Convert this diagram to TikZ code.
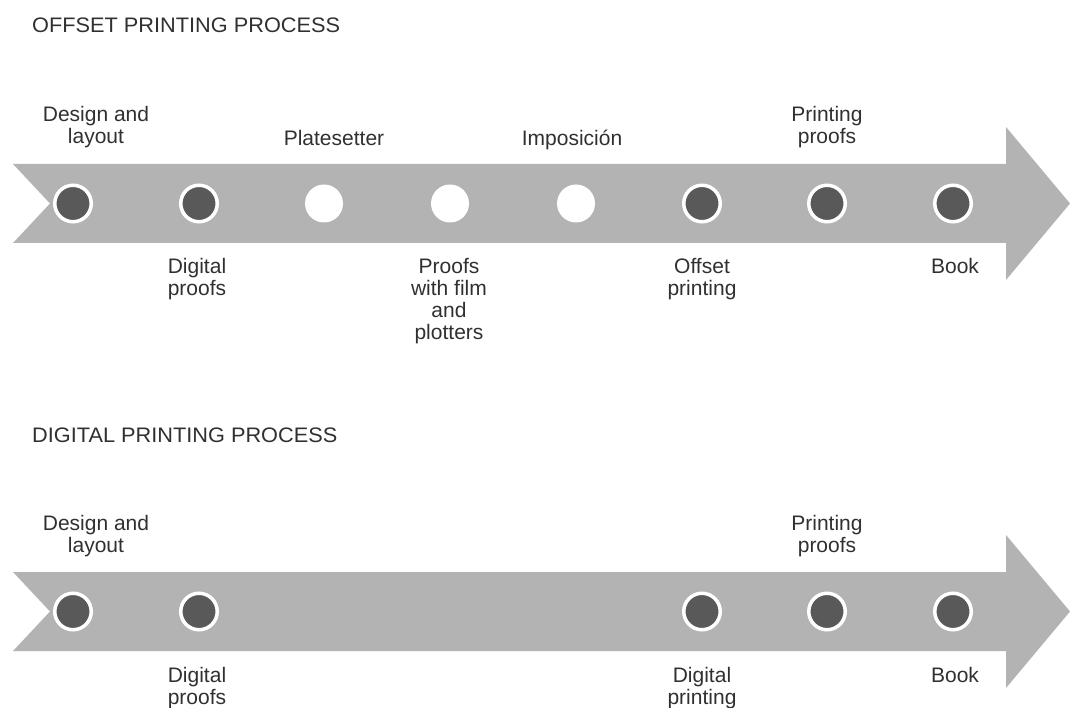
\documentclass[tikz,border=0pt]{standalone}
\usepackage{fontspec}
\setmainfont{Liberation Sans}
\definecolor{arrowgray}{HTML}{B3B3B3}
\definecolor{dotdark}{HTML}{595959}
\definecolor{txt}{HTML}{303030}
\newcommand{\lbl}[1]{\begin{tabular}[t]{@{}c@{}}#1\end{tabular}}
\tikzset{
  bigarrow/.style={fill=arrowgray, draw=none},
  dotfull/.style={circle, inner sep=0pt, minimum size=36.5pt, fill=dotdark, draw=white, line width=3.5pt},
  dotempty/.style={circle, inner sep=0pt, minimum size=38pt, fill=white, draw=none},
  label/.style={inner sep=0pt, anchor=base, text=txt, font=\fontsize{21}{22}\selectfont},
  title/.style={inner sep=0pt, anchor=base west, text=txt, font=\fontsize{21}{22}\selectfont}
}
\begin{document}
\begin{tikzpicture}[x=1pt,y=-1pt]
\useasboundingbox (0,0) rectangle (1070,708);
% titles
\node[title] (t1) at (32,33) {\scalebox{1.035}[1]{OFFSET PRINTING PROCESS}};
\node[title] (t2) at (32,442) {\scalebox{1.035}[1]{DIGITAL PRINTING PROCESS}};
% arrows
\path[bigarrow] (13,164) -- (1006,164) -- (1006,127) -- (1070,203.5) -- (1006,280) -- (1006,243) -- (13,243) -- (50,203.5) -- cycle;
\path[bigarrow] (13,572) -- (1006,572) -- (1006,535) -- (1070,611.5) -- (1006,688) -- (1006,651) -- (13,651) -- (50,611.5) -- cycle;
% top dots
\node[dotfull]  (a1) at (73,203.5) {};
\node[dotfull]  (a2) at (199,203.5) {};
\node[dotempty] (a3) at (324,203.5) {};
\node[dotempty] (a4) at (450,203.5) {};
\node[dotempty] (a5) at (576,203.5) {};
\node[dotfull]  (a6) at (702,203.5) {};
\node[dotfull]  (a7) at (827,203.5) {};
\node[dotfull]  (a8) at (953,203.5) {};
% bottom dots
\node[dotfull] (b1) at (73,611.5) {};
\node[dotfull] (b2) at (199,611.5) {};
\node[dotfull] (b6) at (702,611.5) {};
\node[dotfull] (b7) at (827,611.5) {};
\node[dotfull] (b8) at (953,611.5) {};
% top process labels
\node[label] (la1) at (96,122) {\lbl{Design and\\layout}};
\node[label] (la3) at (334,146) {Platesetter};
\node[label] (la5) at (572,146) {Imposición};
\node[label] (la7) at (827,122) {\lbl{Printing\\proofs}};
\node[label] (la2) at (197,274) {\lbl{Digital\\proofs}};
\node[label] (la4) at (449,274) {\lbl{Proofs\\with film\\and\\plotters}};
\node[label] (la6) at (702,274) {\lbl{Offset\\printing}};
\node[label] (la8) at (955,274) {Book};
% bottom process labels
\node[label] (lb1) at (96,530) {\lbl{Design and\\layout}};
\node[label] (lb7) at (827,530) {\lbl{Printing\\proofs}};
\node[label] (lb2) at (197,682) {\lbl{Digital\\proofs}};
\node[label] (lb6) at (702,682) {\lbl{Digital\\printing}};
\node[label] (lb8) at (955,682) {Book};
\end{tikzpicture}
\end{document}
